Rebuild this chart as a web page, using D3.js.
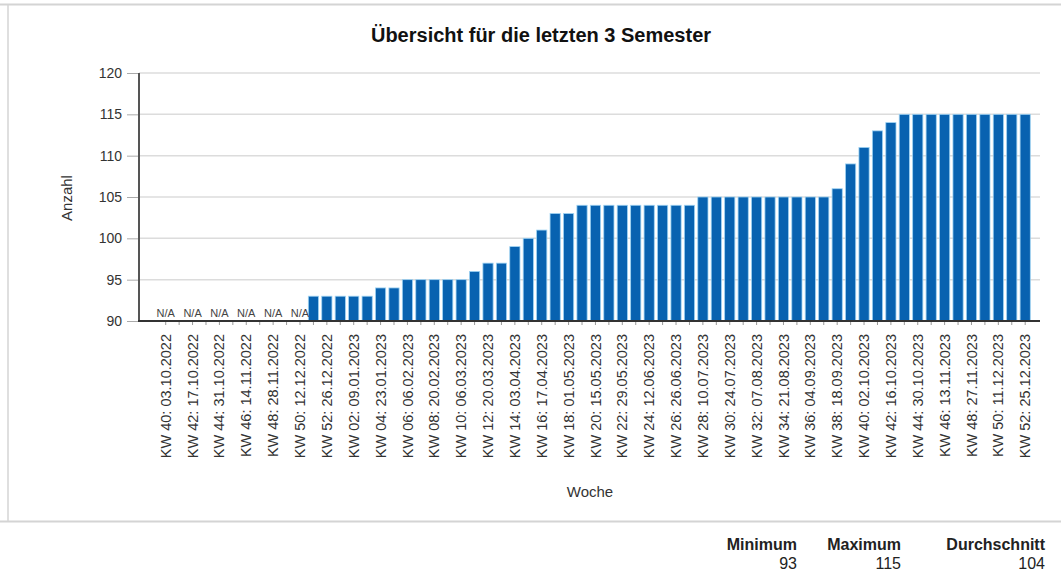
<!DOCTYPE html>
<html>
<head>
<meta charset="utf-8">
<script src="https://cdn.jsdelivr.net/npm/d3@7"></script>
<style>
  body { margin: 0; background: #fff; }
  svg { font-family: "Liberation Sans", Arial, sans-serif; }
</style>
</head>
<body>
<svg id="chart" width="1061" height="573"></svg>
<script>
// weeks (KW 40/2022 .. KW 52/2023)
const weeks = [
  "KW 40: 03.10.2022", "KW 41: 10.10.2022", "KW 42: 17.10.2022", "KW 43: 24.10.2022",
  "KW 44: 31.10.2022", "KW 45: 07.11.2022", "KW 46: 14.11.2022", "KW 47: 21.11.2022",
  "KW 48: 28.11.2022", "KW 49: 05.12.2022", "KW 50: 12.12.2022", "KW 51: 19.12.2022",
  "KW 52: 26.12.2022",
  "KW 01: 02.01.2023", "KW 02: 09.01.2023", "KW 03: 16.01.2023", "KW 04: 23.01.2023",
  "KW 05: 30.01.2023", "KW 06: 06.02.2023", "KW 07: 13.02.2023", "KW 08: 20.02.2023",
  "KW 09: 27.02.2023", "KW 10: 06.03.2023", "KW 11: 13.03.2023", "KW 12: 20.03.2023",
  "KW 13: 27.03.2023", "KW 14: 03.04.2023", "KW 15: 10.04.2023", "KW 16: 17.04.2023",
  "KW 17: 24.04.2023", "KW 18: 01.05.2023", "KW 19: 08.05.2023", "KW 20: 15.05.2023",
  "KW 21: 22.05.2023", "KW 22: 29.05.2023", "KW 23: 05.06.2023", "KW 24: 12.06.2023",
  "KW 25: 19.06.2023", "KW 26: 26.06.2023", "KW 27: 03.07.2023", "KW 28: 10.07.2023",
  "KW 29: 17.07.2023", "KW 30: 24.07.2023", "KW 31: 31.07.2023", "KW 32: 07.08.2023",
  "KW 33: 14.08.2023", "KW 34: 21.08.2023", "KW 35: 28.08.2023", "KW 36: 04.09.2023",
  "KW 37: 11.09.2023", "KW 38: 18.09.2023", "KW 39: 25.09.2023", "KW 40: 02.10.2023",
  "KW 41: 09.10.2023", "KW 42: 16.10.2023", "KW 43: 23.10.2023", "KW 44: 30.10.2023",
  "KW 45: 06.11.2023", "KW 46: 13.11.2023", "KW 47: 20.11.2023", "KW 48: 27.11.2023",
  "KW 49: 04.12.2023", "KW 50: 11.12.2023", "KW 51: 18.12.2023", "KW 52: 25.12.2023"
];

// Anzahl per week, null = N/A
const counts = [
  null, null, null, null, null, null, null, null, null, null, null, 93,
  93,
  93, 93, 93, 94, 94, 95, 95, 95, 95, 95, 96, 97,
  97, 99, 100, 101, 103, 103, 104, 104, 104, 104, 104, 104,
  104, 104, 104, 105, 105, 105, 105, 105, 105, 105, 105, 105,
  105, 106, 109, 111, 113, 114, 115, 115, 115, 115, 115, 115,
  115, 115, 115, 115
];

const yTicks = [90, 95, 100, 105, 110, 115, 120];

const statLabels = ["Minimum", "Maximum", "Durchschnitt"];
const statValues = [93, 115, 104];

const data = weeks.map((w, i) => ({ week: w, value: counts[i], idx: i }));

const margin = { top: 73, left: 139 },
      width = 1040 - 139,
      height = 321 - 73;

const svg = d3.select("#chart");

// panel border
svg.append("line").attr("x1", 0).attr("x2", 1061).attr("y1", 4.5).attr("y2", 4.5)
    .style("stroke", "#d4d4d4").style("stroke-width", 2);
svg.append("line").attr("x1", 0).attr("x2", 1061).attr("y1", 521.5).attr("y2", 521.5)
    .style("stroke", "#d4d4d4").style("stroke-width", 2);
svg.append("line").attr("x1", 8).attr("x2", 8).attr("y1", 4).attr("y2", 522)
    .style("stroke", "#d4d4d4").style("stroke-width", 1.5);

svg.append("text")
    .attr("x", 541)
    .attr("y", 42)
    .attr("text-anchor", "middle")
    .style("font-size", "20px")
    .style("font-weight", "bold")
    .style("fill", "#111")
    .text("Übersicht für die letzten 3 Semester");

const g = svg.append("g")
    .attr("transform", `translate(${margin.left},${margin.top})`);

const x = d3.scaleBand()
    .domain(weeks)
    .range([21.6, 891.3])
    .paddingInner(0.24)
    .paddingOuter(0);

const y = d3.scaleLinear()
    .domain([90, 120])
    .range([height, 0]);

// grid
g.append("g")
    .selectAll("line")
    .data(yTicks)
    .enter()
    .append("line")
    .attr("x1", 0)
    .attr("x2", width)
    .attr("y1", d => y(d))
    .attr("y2", d => y(d))
    .style("stroke", "#dcdcdc")
    .style("stroke-width", 1.5);

// y axis
const yAxis = g.append("g")
    .call(d3.axisLeft(y).tickValues(yTicks).tickSize(12).tickPadding(5));
yAxis.select(".domain").remove();
yAxis.selectAll(".tick line").style("stroke", "#aaa");
yAxis.selectAll(".tick text")
    .style("font-size", "14px")
    .style("fill", "#333")
    .style("font-family", "Liberation Sans, Arial, sans-serif");

// bars
g.selectAll(".bar")
    .data(data.filter(d => d.value !== null))
    .enter()
    .append("rect")
    .attr("class", "bar")
    .attr("x", d => x(d.week))
    .attr("width", x.bandwidth())
    .attr("y", d => y(d.value))
    .attr("height", d => height - y(d.value))
    .style("fill", "#0862b0")
    .style("stroke", "#9ed3f3")
    .style("stroke-width", 0.8);

// N/A markers (shown every other week like the labels)
g.selectAll(".na")
    .data(data.filter(d => d.value === null && d.idx % 2 === 0))
    .enter()
    .append("text")
    .attr("class", "na")
    .attr("x", d => x(d.week) + x.bandwidth() / 2)
    .attr("y", height - 4)
    .attr("text-anchor", "middle")
    .style("font-size", "11px")
    .style("fill", "#444")
    .text("N/A");

// x axis
const xAxis = g.append("g")
    .attr("transform", `translate(0,${height})`)
    .call(d3.axisBottom(x)
        .tickSize(4)
        .tickFormat((d, i) => i % 2 === 0 ? d : ""));
xAxis.select(".domain").remove();
xAxis.selectAll(".tick line").style("stroke", "#999");
xAxis.selectAll(".tick text")
    .attr("transform", "rotate(-90)")
    .attr("text-anchor", "end")
    .attr("x", -13)
    .attr("y", 0)
    .attr("dy", "0.35em")
    .style("font-size", "14.5px")
    .style("fill", "#333")
    .style("font-family", "Liberation Sans, Arial, sans-serif");

// axis lines
g.append("line")
    .attr("x1", 0).attr("x2", 0).attr("y1", 0).attr("y2", height)
    .style("stroke", "#555").style("stroke-width", 2);
g.append("line")
    .attr("x1", -1).attr("x2", width).attr("y1", height).attr("y2", height)
    .style("stroke", "#333").style("stroke-width", 2);

// axis titles
svg.append("text")
    .attr("transform", "rotate(-90)")
    .attr("x", -198)
    .attr("y", 72)
    .attr("text-anchor", "middle")
    .style("font-size", "15px")
    .style("fill", "#333")
    .text("Anzahl");

svg.append("text")
    .attr("x", 590)
    .attr("y", 497)
    .attr("text-anchor", "middle")
    .style("font-size", "15px")
    .style("fill", "#333")
    .text("Woche");

// summary
const statX = [797, 901, 1045];
statLabels.forEach((s, i) => {
    svg.append("text")
        .attr("x", statX[i])
        .attr("y", 550)
        .attr("text-anchor", "end")
        .style("font-size", "16px")
        .style("font-weight", "bold")
        .style("fill", "#222")
        .text(s);
    svg.append("text")
        .attr("x", statX[i])
        .attr("y", 569)
        .attr("text-anchor", "end")
        .style("font-size", "16px")
        .style("fill", "#222")
        .text(statValues[i]);
});
</script>
</body>
</html>
